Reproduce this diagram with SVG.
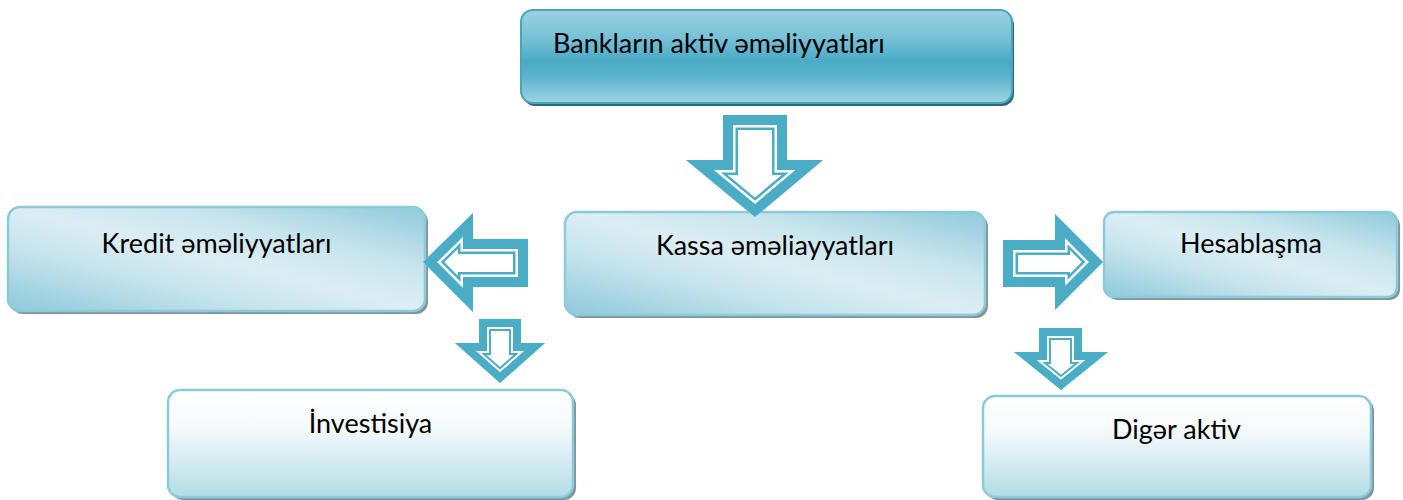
<svg xmlns="http://www.w3.org/2000/svg" xmlns:xlink="http://www.w3.org/1999/xlink" width="1403" height="500" viewBox="0 0 1403 500">
<style>
.lbl{font-family:Lato,"Open Sans","Liberation Sans",sans-serif;font-size:27px;fill:#000}
.shadow{fill:#7f959c}
.shadowTop{fill:#2e6778}
.light{fill:url(#gLight);stroke:#8ccadb;stroke-width:2.5}
.fade{fill:url(#gFade);stroke:#8ccadb;stroke-width:2.5}
.top{fill:url(#gTop);stroke:#4aa4be;stroke-width:2}
.aw{fill:#fff;stroke:none}
.b1{fill:none;stroke:#4bacc6;stroke-width:30;stroke-linejoin:miter;stroke-miterlimit:10}
.b2{fill:none;stroke:#fff;stroke-width:25;stroke-linejoin:miter;stroke-miterlimit:10}
.b3{fill:none;stroke:#4bacc6;stroke-width:20;stroke-linejoin:miter;stroke-miterlimit:10}
.s1{fill:none;stroke:#4bacc6;stroke-width:24;stroke-linejoin:miter;stroke-miterlimit:10}
.s2{fill:none;stroke:#fff;stroke-width:20;stroke-linejoin:miter;stroke-miterlimit:10}
.s3{fill:none;stroke:#4bacc6;stroke-width:16;stroke-linejoin:miter;stroke-miterlimit:10}
</style>
<defs>
<linearGradient id="gTop" x1="0" y1="0" x2="0" y2="1">
<stop offset="0" stop-color="#9ad2e2"/>
<stop offset="0.3" stop-color="#78c1d6"/>
<stop offset="0.55" stop-color="#4aaac6"/>
<stop offset="0.72" stop-color="#5cb4cd"/>
<stop offset="1" stop-color="#9fd4e3"/>
</linearGradient>
<linearGradient id="gLight" x1="0" y1="1" x2="1" y2="0">
<stop offset="0" stop-color="#8dc9da"/>
<stop offset="0.3" stop-color="#c4e3ec"/>
<stop offset="0.5" stop-color="#dceef4"/>
<stop offset="0.7" stop-color="#c8e5ed"/>
<stop offset="1" stop-color="#8fcadb"/>
</linearGradient>
<linearGradient id="gFade" x1="0" y1="0" x2="0" y2="1">
<stop offset="0" stop-color="#ffffff"/>
<stop offset="0.35" stop-color="#f4fafc"/>
<stop offset="1" stop-color="#b2dce6"/>
</linearGradient>
<path id="a1" d="M723,115 H787 V160 H823 L755,217 L686,160 H723 Z"/>
<path id="a2" d="M528,239 V287 H473 V312 L423,262 L473,213 V239 Z"/>
<path id="a3" d="M1003,240 H1055 V214 L1103,262 L1055,310 V287 H1003 Z"/>
<path id="a4" d="M479,319 H521 V343 H545 L500,383 L455,343 H479 Z"/>
<path id="a5" d="M1039,328 H1082 V352 H1108 L1061,390 L1014,352 H1039 Z"/>
<clipPath id="c1"><use xlink:href="#a1"/></clipPath>
<clipPath id="c2"><use xlink:href="#a2"/></clipPath>
<clipPath id="c3"><use xlink:href="#a3"/></clipPath>
<clipPath id="c4"><use xlink:href="#a4"/></clipPath>
<clipPath id="c5"><use xlink:href="#a5"/></clipPath>
</defs>
<rect width="1403" height="500" fill="#fff"/>

<g id="node-banklarin">
<rect class="shadowTop" x="523" y="13" width="491" height="93" rx="12"/>
<rect class="top" x="521" y="10" width="491" height="93" rx="12"/>
<text class="lbl" x="553" y="53">Bankların aktiv əməliyyatları</text>
</g>

<g id="node-kredit">
<rect class="shadow" x="11" y="210" width="417" height="104" rx="12"/>
<rect class="light" x="8" y="207" width="417" height="104" rx="12"/>
<text class="lbl" x="216.5" y="253" text-anchor="middle">Kredit əməliyyatları</text>
</g>

<g id="node-kassa">
<rect class="shadow" x="568" y="215" width="420" height="103" rx="12"/>
<rect class="light" x="565" y="212" width="420" height="103" rx="12"/>
<text class="lbl" x="775" y="255" text-anchor="middle">Kassa əməliayyatları</text>
</g>

<g id="node-hesablasma">
<rect class="shadow" x="1107" y="215" width="293" height="85" rx="10"/>
<rect class="light" x="1104" y="212" width="293" height="85" rx="10"/>
<text class="lbl" x="1251" y="253" text-anchor="middle">Hesablaşma</text>
</g>

<g id="node-investisiya">
<rect class="shadow" x="171" y="393" width="405" height="107" rx="12"/>
<rect class="fade" x="168" y="390" width="405" height="107" rx="12"/>
<text class="lbl" x="370.5" y="433" text-anchor="middle">İnvestisiya</text>
</g>

<g id="node-diger">
<rect class="shadow" x="986" y="399" width="388" height="101" rx="12"/>
<rect class="fade" x="983" y="396" width="388" height="101" rx="12"/>
<text class="lbl" x="1176.5" y="439" text-anchor="middle">Digər aktiv</text>
</g>

<g id="connectors">
<g clip-path="url(#c1)"><use xlink:href="#a1" class="aw"/><use xlink:href="#a1" class="b1"/><use xlink:href="#a1" class="b2"/><use xlink:href="#a1" class="b3"/></g>
<g clip-path="url(#c2)"><use xlink:href="#a2" class="aw"/><use xlink:href="#a2" class="b1"/><use xlink:href="#a2" class="b2"/><use xlink:href="#a2" class="b3"/></g>
<g clip-path="url(#c3)"><use xlink:href="#a3" class="aw"/><use xlink:href="#a3" class="b1"/><use xlink:href="#a3" class="b2"/><use xlink:href="#a3" class="b3"/></g>
<g clip-path="url(#c4)"><use xlink:href="#a4" class="aw"/><use xlink:href="#a4" class="s1"/><use xlink:href="#a4" class="s2"/><use xlink:href="#a4" class="s3"/></g>
<g clip-path="url(#c5)"><use xlink:href="#a5" class="aw"/><use xlink:href="#a5" class="s1"/><use xlink:href="#a5" class="s2"/><use xlink:href="#a5" class="s3"/></g>
</g>
</svg>
